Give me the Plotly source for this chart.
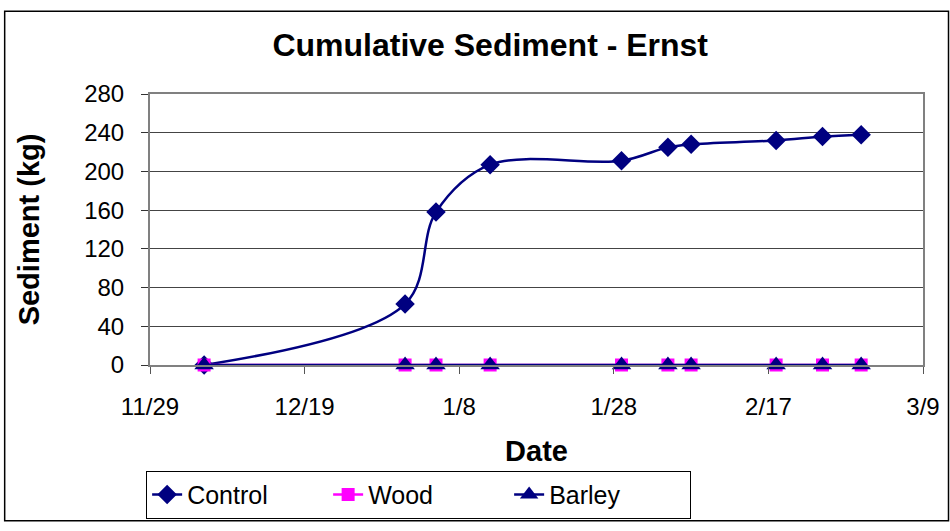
import plotly.graph_objects as go

dates = ["2004-12-06", "2005-01-01", "2005-01-05", "2005-01-12", "2005-01-29",
         "2005-02-04", "2005-02-07", "2005-02-18", "2005-02-24", "2005-03-01"]
control = [0, 63, 158, 207, 211, 225, 228, 232, 236, 238]
wood = [0, 0, 0, 0, 0, 0, 0, 0, 0, 0]
barley = [0, 0, 0, 0, 0, 0, 0, 0, 0, 0]

navy = "#000080"
magenta = "#FF00FF"

fig = go.Figure()

fig.add_trace(go.Scatter(x=dates, y=control, name="Control", mode="lines+markers",
                         line=dict(color=navy, width=2.5, shape="spline", smoothing=1),
                         marker=dict(symbol="diamond", size=15, color=navy),
                         cliponaxis=False))
fig.add_trace(go.Scatter(x=dates, y=wood, name="Wood", mode="lines+markers",
                         line=dict(color=magenta, width=2.5),
                         marker=dict(symbol="square", size=13, color=magenta),
                         cliponaxis=False))
fig.add_trace(go.Scatter(x=dates, y=barley, name="Barley", mode="lines+markers",
                         line=dict(color=navy, width=2.5),
                         marker=dict(symbol="triangle-up", size=17, color=navy),
                         cliponaxis=False))

fig.update_layout(
    width=950, height=531,
    paper_bgcolor="white", plot_bgcolor="white",
    margin=dict(l=150, r=27, t=94, b=160),
    font=dict(family="Liberation Sans, Arial", size=24, color="black"),
    title=dict(text="<b>Cumulative Sediment - Ernst</b>", x=0.516, xanchor="center",
               y=0.915, yanchor="middle", font=dict(size=32)),
    xaxis=dict(
        type="date", range=["2004-11-29", "2005-03-09"],
        tick0="2004-11-29", dtick=20 * 86400000, tickformat="%-m/%-d",
        ticks="outside", ticklen=7, tickcolor="#555", showgrid=False,
        ticklabelstandoff=12, automargin=False,
        showline=True, linecolor="#808080", linewidth=2, mirror=True,
        title=dict(text="<b>Date</b>", standoff=22),
    ),
    yaxis=dict(
        range=[0, 280], dtick=40, ticks="outside", ticklen=7, tickcolor="#333",
        ticklabelstandoff=12, automargin=False,
        showgrid=True, gridcolor="#444", gridwidth=1,
        showline=True, linecolor="#808080", linewidth=2, mirror=True,
        zeroline=False,
        title=dict(text="<b>Sediment (kg)</b>", standoff=36),
    ),
    showlegend=True,
    legend=dict(orientation="h", x=-0.005, xanchor="left", y=-0.39, yanchor="top",
                bordercolor="black", borderwidth=1, font=dict(size=25),
                entrywidth=136, tracegroupgap=0),
    shapes=[dict(type="rect", xref="paper", yref="paper",
                 x0=-0.188, x1=1.033, y0=-0.575, y1=1.305,
                 line=dict(color="black", width=1.5))],
)

fig.write_html("out.html", config={"displayModeBar": False},
               post_script="document.body.style.margin='0px';")
